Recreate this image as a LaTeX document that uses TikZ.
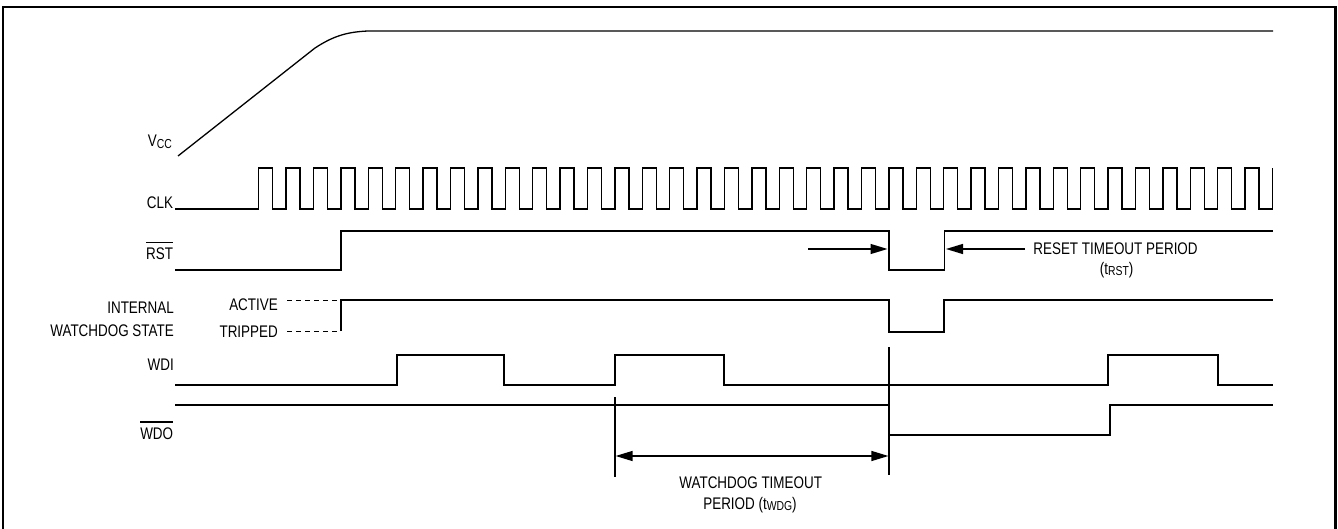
\documentclass[tikz,border=0pt]{standalone}
\usepackage{fontspec}
\setmainfont{Liberation Sans}[FakeStretch=0.8]
\usetikzlibrary{arrows.meta}
\newcommand\wdfont{\fontsize{16.8pt}{19pt}\selectfont}
\newcommand\lowtxt[1]{\raisebox{-1.2pt}{\fontsize{13pt}{14pt}\selectfont #1}}
\newcommand\nbar[1]{\vbox{\hrule height 1.2pt\kern 5pt\hbox{#1}}}
\tikzset{
  sig/.style={line width=1.3pt,line join=miter},
  frame/.style={line width=2.2pt},
  lvl/.style={line width=1pt,dash pattern=on 5pt off 4pt},
  lbl/.style={inner sep=0pt,anchor=base east},
  note/.style={inner sep=0pt,anchor=base},
  guide/.style={line width=1.3pt},
  dim/.style={line width=1.3pt,-{Triangle[length=17pt,width=10pt]}},
  dimboth/.style={line width=1.3pt,{Triangle[length=17pt,width=10pt]}-{Triangle[length=17pt,width=10pt]}},
}

\begin{document}
\begin{tikzpicture}[x=1pt,y=-1pt,font=\wdfont]
    \useasboundingbox (0,0) rectangle (1338,529);
    % --- outer frame, open at the bottom ---
    \draw[frame] (3,529) -- (3,7) -- (1335.5,7) -- (1335.5,529);

    % --- signal names ---
    \node[lbl] (vcc)  at (172,147)   {V\lowtxt{CC}};
    \node[lbl] (clk)  at (173.3,208.3) {CLK};
    \node[lbl] (rst)  at (173.3,260) {\nbar{RST}};
    \node[lbl] (intl) at (174,313.3) {INTERNAL};
    \node[lbl] (wdst) at (174,336.7) {WATCHDOG STATE};
    \node[lbl] (act)  at (278,310)   {ACTIVE};
    \node[lbl] (trp)  at (278,337)   {TRIPPED};
    \node[lbl] (wdi)  at (174,370)   {WDI};
    \node[lbl] (wdo)  at (173.3,439.3) {\nbar{WDO}};

    % --- VCC ramp ---
    \draw[sig] (178,156) -- (315,48) .. controls (332,37) and (345,32) .. (368,31) -- (1273,31);

    % --- CLK: 37 periods, ends on a rising edge ---
    \draw[sig] (175,209) -- (258.7,209)
      \foreach \k in {0,...,36} { -- ++(0,-41) -- ++(14,0) -- ++(0,41) -- ++(13.4,0) }
      -- ++(0,-41);

    % --- RST ---
    \draw[sig] (175,270) -- (341,270) -- (341,231) -- (889,231) -- (889,270)
      -- (944.5,270) -- (944.5,231) -- (1273,231);

    % --- internal watchdog state ---
    \draw[lvl] (287,300) -- (340,300);
    \draw[lvl] (287,331) -- (340,331);
    \draw[sig] (341,331) -- (341,300) -- (889,300) -- (889,332) -- (944,332)
      -- (944,300) -- (1273,300);

    % --- WDI ---
    \draw[sig] (175,385) -- (397,385) -- (397,355) -- (504,355) -- (504,385)
      -- (615,385) -- (615,355) -- (724,355) -- (724,385) -- (1108,385)
      -- (1108,355) -- (1218,355) -- (1218,385) -- (1273,385);

    % --- WDO ---
    \draw[sig] (175,405) -- (889,405) -- (889,435) -- (1110,435) -- (1110,405) -- (1273,405);

    % --- reset timeout period ---
    \node[note] (rsttxt) at (1115.5,255) {RESET TIMEOUT PERIOD};
    \node[note] (trst)   at (1116.7,274.3) {(t\lowtxt{RST})};
    \coordinate (rstin)   at (808,249);
    \coordinate (rstfall) at (887.5,249);
    \coordinate (rstout)  at (1025,249);
    \coordinate (rstrise) at (946,249);
    \draw[dim] (rstin) -- (rstfall);
    \draw[dim] (rstout) -- (rstrise);

    % --- watchdog timeout period ---
    \coordinate (wdgA) at (615,397);
    \coordinate (wdgB) at (889,347);
    \draw[guide] (wdgA) -- (615,477);
    \draw[guide] (wdgB) -- (889,475);
    \coordinate (wdgL) at (615.6,456);
    \coordinate (wdgR) at (888.4,456);
    \draw[dimboth] (wdgL) -- (wdgR);
    \node[note] (wdgtxt) at (750.7,488.3) {WATCHDOG TIMEOUT};
    \node[note] (twdg)   at (750,509)   {PERIOD (t\lowtxt{WDG})};
\end{tikzpicture}
\end{document}
